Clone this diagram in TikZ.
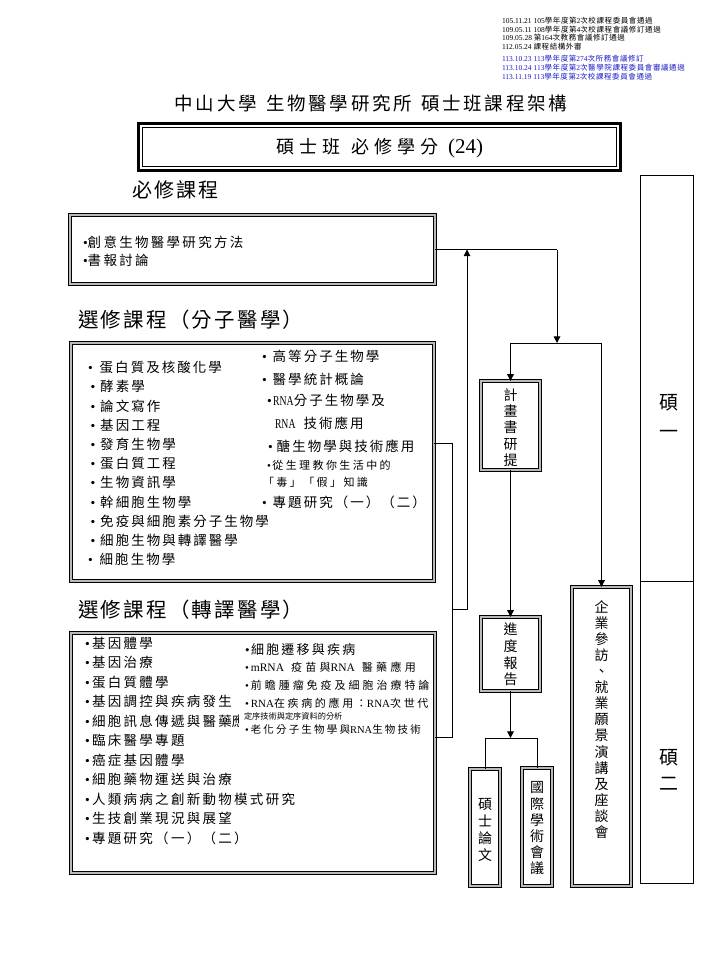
\documentclass[tikz,border=0pt]{standalone}
\usepackage{fontspec}
\setmainfont{Noto Sans CJK TC}
\newfontfamily\lat{Liberation Serif}
\newfontfamily\latc[FakeStretch=0.72]{Liberation Serif}
\usetikzlibrary{arrows.meta}
\newcommand\p[1]{\fpeval{(#1)*0.75}pt}
\newcommand\tsz[2]{\fontsize{\p{#1}}{\p{(#1)*1.2}}\selectfont\addfontfeatures{LetterSpace=#2}}
\newcommand\vsz[2]{\fontsize{\p{#1}}{\p{#2}}\selectfont}
\newcommand\bl[1]{{\lat •}\hspace{\p{#1}}}
\newcommand\lsz[1]{\fontsize{\p{#1}}{\p{(#1)*1.2}}\selectfont}
\definecolor{noteblue}{RGB}{30,30,200}
\tikzset{
  dbox/.style={draw=black, double=gray!55, line width=0.5pt, double distance=1.7pt},
  bsize/.style 2 args={minimum width=#1*0.75pt, minimum height=#2*0.75pt},
  conn/.style={line width=0.75pt},
  arr/.style={line width=0.75pt, -{Triangle[width=5pt,length=5pt]}},
  lbl/.style={anchor=west},
  vtxt/.style={align=center},
}
\begin{document}
\begin{tikzpicture}[x=0.75pt,y=-0.75pt, every node/.style={inner sep=0pt,outer sep=0pt}]
\useasboundingbox (0,0) rectangle (720,960);
\fill[white] (0,0) rectangle (720,960);

% notes
\begin{scope}[every node/.append style={lbl, font=\tsz{7.5}{8}}]
\node (n1) at (502,21) {{\lat 105.11.21 105}學年度第{\lat 2}次校課程委員會通過};
\node (n2) at (502,29.5) {{\lat 109.05.11 108}學年度第{\lat 4}次校課程會議修訂通過};
\node (n3) at (502,38) {{\lat 109.05.28 }第{\lat 164}次教務會議修訂通過};
\node (n4) at (502,46.5) {{\lat 112.05.24 }課程結構外審};
\node[text=noteblue] (n5) at (502,59) {{\lat 113.10.23 113}學年度第{\lat 274}次所務會議修訂};
\node[text=noteblue] (n6) at (502,68) {{\lat 113.10.24 113}學年度第{\lat 2}次醫學院課程委員會審議通過};
\node[text=noteblue] (n7) at (502,77) {{\lat 113.11.19 113}學年度第{\lat 2}次校課程委員會通過};
\end{scope}

% title
\node (title) at (371,103) {\tsz{18.5}{15}中山大學\hspace{\p{9}}生物醫學研究所\hspace{\p{9}}碩士班課程架構};

% credit frame
\node[draw, line width=2.6pt, bsize={481.5}{46.5}] (credit) at (379.5,147) {};
\draw[line width=0.75pt] ([shift={(4.2,4.2)}]credit.north west) rectangle ([shift={(-4.2,-4.2)}]credit.south east);
\node (ctext) at (380,148) {\tsz{18}{27}碩士班\hspace{\p{11}}必修學分\hspace{\p{10}}{\lat\lsz{21}(24)}};

% headings
\node[lbl] (h1) at (132,190) {\tsz{20}{11}必修課程};
\node[lbl] (h2) at (78,320) {\tsz{20.5}{11}選修課程（分子醫學）};
\node[lbl] (h3) at (78,610) {\tsz{20.5}{11}選修課程（轉譯醫學）};

% boxes
\node[dbox, bsize={365.4}{69.4}] (req) at (252.5,249.5) {};
\node[dbox, bsize={363.4}{238.4}] (mol) at (252.5,462) {};
\node[dbox, bsize={364.4}{240.4}] (tr) at (253,753) {};
\node[dbox, bsize={59.4}{89.4}] (plan) at (510.5,425.5) {};
\node[dbox, bsize={59.4}{74.4}] (prog) at (510.5,654) {};
\node[dbox, bsize={30.4}{117.4}] (thesis) at (485,827.5) {};
\node[dbox, bsize={30.4}{118.4}] (conf) at (537,827) {};
\node[dbox, bsize={59.4}{299.4}] (ind) at (601.5,736.5) {};
\node[draw, line width=0.75pt, bsize={53}{406}] (yr1) at (666.5,378) {};
\node[draw, line width=0.75pt, bsize={53}{302}] (yr2) at (666.5,732) {};

% required items
\begin{scope}[every node/.append style={lbl, font=\tsz{13.5}{17}}]
\node (q1) at (83,242) {\bl{0}創意生物醫學研究方法};
\node (q2) at (83,260) {\bl{0}書報討論};
\end{scope}

% molecular medicine items
\begin{scope}[every node/.append style={lbl, font=\tsz{13.5}{15}}]
\node (m1) at (88,367.5) {\bl{7}蛋白質及核酸化學};
\node (m2) at (90.5,386.7) {\bl{5}酵素學};
\node (m3) at (90.5,405.9) {\bl{5}論文寫作};
\node (m4) at (90.5,425.1) {\bl{5}基因工程};
\node (m5) at (90.5,444.3) {\bl{5}發育生物學};
\node (m6) at (90.5,463.5) {\bl{5}蛋白質工程};
\node (m7) at (90.5,482.7) {\bl{5}生物資訊學};
\node (m8) at (90.5,501.9) {\bl{5}幹細胞生物學};
\node (m9) at (90.5,521.1) {\bl{5}免疫與細胞素分子生物學};
\node (m10) at (90.5,540.3) {\bl{5}細胞生物與轉譯醫學};
\node (m11) at (88,559.5) {\bl{7}細胞生物學};
\node (k1) at (262,356) {\bl{6}高等分子生物學};
\node (k2) at (262,379) {\bl{6}醫學統計概論};
\node (k3) at (267,400) {\bl{1.5}{\latc RNA}分子生物學及};
\node (k4) at (275,423) {{\latc RNA}\hspace{\p{8}}技術應用};
\node (k5) at (268,446) {\bl{4}醣生物學與技術應用};
\node (k8) at (262,502) {\bl{6}專題研究（一）（二）};
\end{scope}
\begin{scope}[every node/.append style={lbl, font=\tsz{11}{22}}]
\node (k6) at (267,465.5) {\bl{1.5}從生理教你生活中的};
\node (k7) at (263,482) {「毒」「假」知識};
\end{scope}

% translational medicine items
\begin{scope}[every node/.append style={lbl, font=\tsz{13.5}{17}}]
\node (t1) at (85,643) {\bl{2.3}基因體學};
\node (t2) at (85,662.5) {\bl{2.3}基因治療};
\node (t3) at (85,682) {\bl{2.3}蛋白質體學};
\node (t4) at (85,701.5) {\bl{2.3}基因調控與疾病發生};
\begin{scope}
\clip (78,708) rectangle (238.5,734);
\node (t5) at (85,721) {\bl{2.3}細胞訊息傳遞與醫藥\makebox[\p{3}][l]{應}};
\end{scope}
\node (t6) at (85,740.5) {\bl{2.3}臨床醫學專題};
\node (t7) at (85,760) {\bl{2.3}癌症基因體學};
\node (t8) at (85,779.5) {\bl{2.3}細胞藥物運送與治療};
\node (t9) at (85,799) {\bl{2.3}人類病病之創新動物模式研究};
\node (t10) at (85,818.5) {\bl{2.3}生技創業現況與展望};
\node (t11) at (85,838) {\bl{2.3}專題研究（一）（二）};
\end{scope}
\node[lbl] (r1) at (245,650) {\tsz{13}{17}\bl{1.5}細胞遷移與疾病};
\node[lbl] (r2) at (245,667) {\tsz{11}{30}\bl{2}{\lat\lsz{11.5}mRNA}\hspace{\p{7}}疫苗與{\lat\lsz{11.5}RNA}\hspace{\p{7}}醫藥應用};
\node[lbl] (r3) at (245,685) {\tsz{11}{27}\bl{2}前瞻腫瘤免疫及細胞治療特論};
\node[lbl] (r4) at (245,703) {\tsz{11}{24}\bl{2}{\lat RNA}在疾病的應用：{\lat RNA}次世代};
\node[lbl] (r5) at (244,716) {\tsz{8.2}{0}定序技術與定序資料的分析};
\node[lbl] (r6) at (245,730) {\tsz{10.5}{21}\bl{2}老化分子生物學與{\lat RNA}生物技術};

% vertical texts
\node[vtxt, font=\vsz{14}{16.25}] (plant) at (510.5,427.5) {計\\畫\\書\\研\\提};
\node[vtxt, font=\vsz{14}{16.7}] (progt) at (510.5,654.5) {進\\度\\報\\告};
\node[vtxt, font=\vsz{14}{16.7}] (thesist) at (485,830) {碩\\士\\論\\文};
\node[vtxt, font=\vsz{14}{16.2}] (conft) at (537,828.5) {國\\際\\學\\術\\會\\議};
\node[vtxt, font=\vsz{14}{16.07}] (indt) at (601.5,719.5) {企\\業\\參\\訪\\、\\就\\業\\願\\景\\演\\講\\及\\座\\談\\會};
\node[vtxt, font=\vsz{19}{29}] (yr1t) at (669,416.5) {碩\\一};
\node[vtxt, font=\vsz{19}{26}] (yr2t) at (669,770) {碩\\二};

% connectors
\coordinate (c1) at (557,249.5);
\coordinate (s1) at (557,343);
\coordinate (mj) at (452,609);
\coordinate (up) at (467,249.5);
\coordinate (s2) at (510.5,738);
\draw[conn] (req.east) -- (c1);
\draw[arr] (c1) -- (s1);
\draw[conn] (plan.north |- s1) -- (ind.north |- s1);
\draw[arr] (plan.north |- s1) -- (plan.north);
\draw[arr] (ind.north |- s1) -- (ind.north);
\draw[conn] (mol.east |- 0,443) -- (452,443) -- (452,737) -- (tr.east |- 0,737);
\draw[arr] (mj) -- (467,609) -- (up);
\draw[arr] (plan.south) -- (prog.north);
\draw[arr] (prog.south) -- (s2);
\draw[conn] (thesis.north) -- (thesis.north |- s2) -- (conf.north |- s2) -- (conf.north);
\end{tikzpicture}
\end{document}
